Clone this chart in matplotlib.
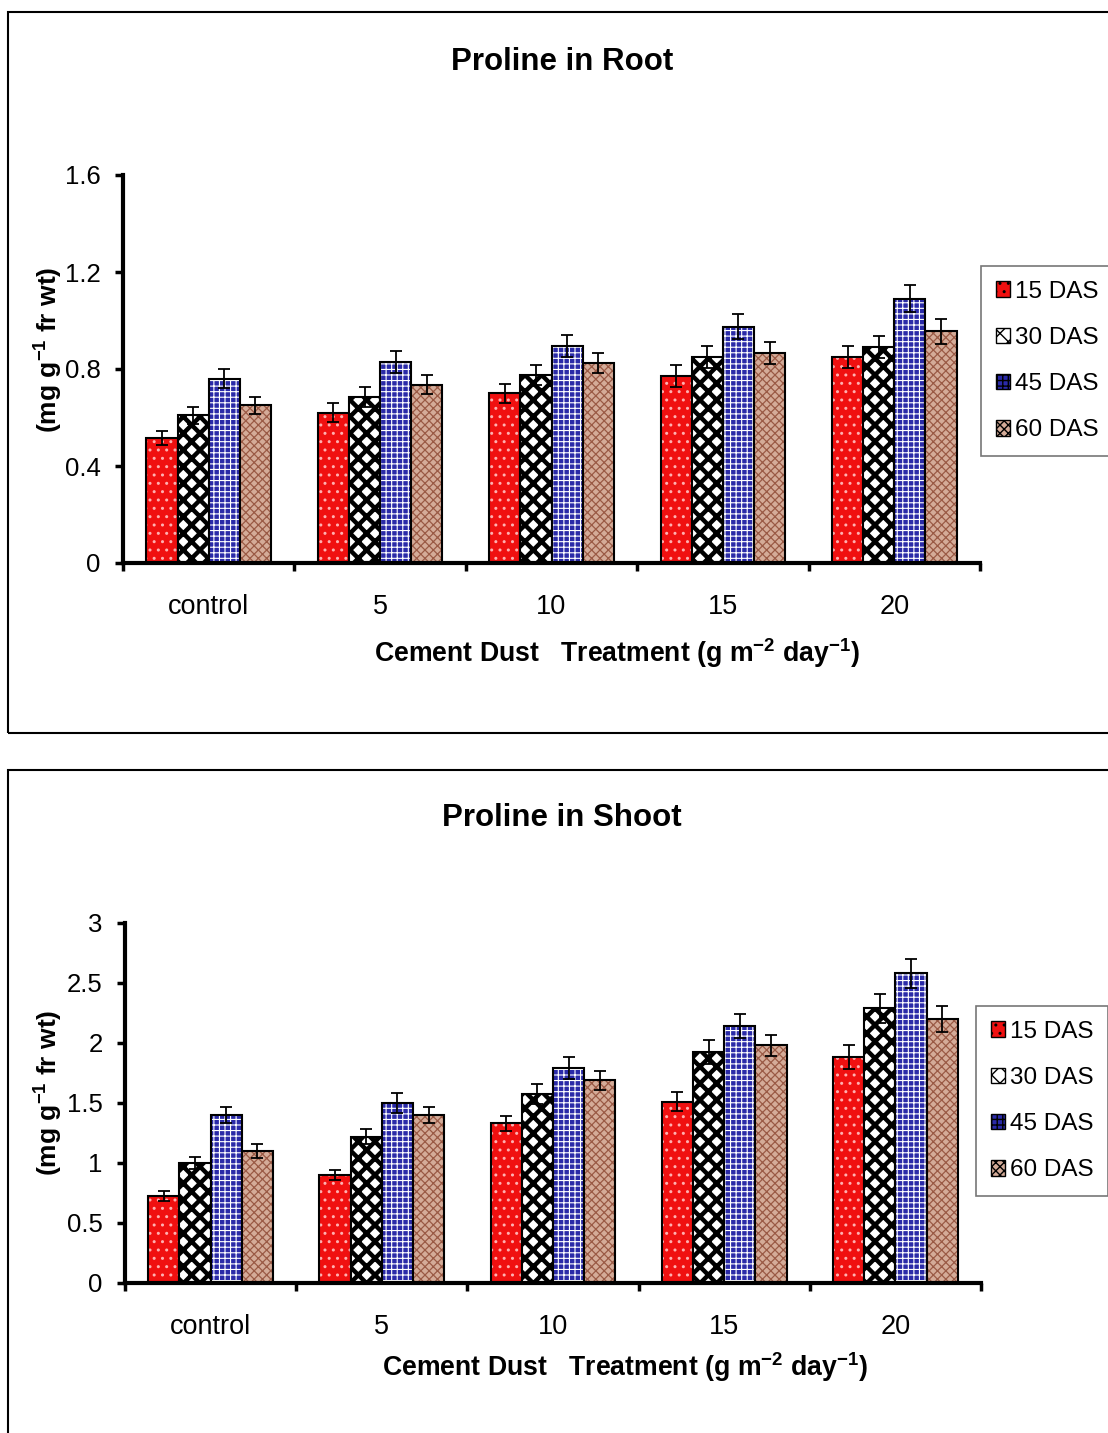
import matplotlib
matplotlib.use("Agg")
import matplotlib.pyplot as plt
from matplotlib.patches import Rectangle
import numpy as np

plt.rcParams['font.family'] = ['Liberation Sans', 'DejaVu Sans']
plt.rcParams['mathtext.fontset'] = 'custom'
plt.rcParams['mathtext.rm'] = 'Liberation Sans'
plt.rcParams['mathtext.bf'] = 'Liberation Sans:bold'
plt.rcParams['hatch.linewidth'] = 1.0

categories = ["control", "5", "10", "15", "20"]
series = ["15 DAS", "30 DAS", "45 DAS", "60 DAS"]

# Proline in root
root_15 = [0.515, 0.62, 0.70, 0.77, 0.85]
root_30 = [0.61, 0.685, 0.775, 0.85, 0.89]
root_45 = [0.76, 0.83, 0.895, 0.975, 1.09]
root_60 = [0.65, 0.735, 0.825, 0.865, 0.955]
root_err_15 = [0.03, 0.04, 0.04, 0.045, 0.045]
root_err_30 = [0.035, 0.04, 0.04, 0.045, 0.045]
root_err_45 = [0.04, 0.045, 0.045, 0.05, 0.055]
root_err_60 = [0.035, 0.04, 0.04, 0.045, 0.05]

# Proline in shoot
shoot_15 = [0.725, 0.90, 1.33, 1.51, 1.88]
shoot_30 = [1.00, 1.22, 1.575, 1.925, 2.29]
shoot_45 = [1.40, 1.50, 1.79, 2.14, 2.58]
shoot_60 = [1.10, 1.40, 1.69, 1.98, 2.20]
shoot_err_15 = [0.04, 0.04, 0.06, 0.08, 0.10]
shoot_err_30 = [0.05, 0.06, 0.08, 0.10, 0.12]
shoot_err_45 = [0.07, 0.08, 0.09, 0.10, 0.12]
shoot_err_60 = [0.06, 0.07, 0.08, 0.09, 0.11]

faces = ["#f01010", "white", "#2a2aa8", "#d4ab98"]
hatch_cols = ["#ffb0b0", "black", "white", "#9a5a45"]
hatches = ["..", "xx", "+++", "xxxx"]
hatch_lw = [1.0, 3.2, 0.8, 0.9]
legend_hatch_lw = [1.0, 4.0, 0.8, 0.9]

fig = plt.figure(figsize=(11.08, 14.33), dpi=100)

W, H = 1108, 1433
# panel frames
fig.patches.append(Rectangle((8 / W, 1 - 733 / H), 1.2, (733 - 12) / H,
                             transform=fig.transFigure, fill=False,
                             edgecolor="black", linewidth=1.5))
fig.patches.append(Rectangle((8 / W, -0.1), 1.2, 0.1 + (1433 - 770) / H,
                             transform=fig.transFigure, fill=False,
                             edgecolor="black", linewidth=1.5))


def set_hlw(patches, lw):
    for p in patches:
        if hasattr(p, "set_hatch_linewidth"):
            p.set_hatch_linewidth(lw)


def panel(rect, data, errs, ymax, ystep, title, title_y, ylab_y, xlab_x, xlab_y, leg_anchor):
    ax = fig.add_axes(rect)
    x = np.arange(len(categories))
    w = 0.182
    for i in range(4):
        pos = x + (i - 1.5) * w
        with plt.rc_context({'hatch.linewidth': hatch_lw[i]}):
            bars = ax.bar(pos, data[i], w, color=faces[i], edgecolor=hatch_cols[i],
                          hatch=hatches[i], linewidth=0, label=series[i])
        set_hlw(bars, hatch_lw[i])
        ax.bar(pos, data[i], w, fill=False, edgecolor="black", linewidth=1.5)
        ax.errorbar(pos, data[i], yerr=errs[i], fmt="none", ecolor="black",
                    elinewidth=1.3, capsize=4.5, capthick=1.3)
    ax.set_xlim(-0.5, 4.5)
    ax.set_ylim(0, ymax)
    yt = np.arange(0, ymax + 1e-9, ystep)
    ax.set_yticks(yt)
    ax.set_yticklabels([f"{v:g}" for v in yt])
    ax.set_xticks(np.arange(-0.5, 4.6, 1))
    ax.set_xticklabels([])
    ax.set_xticks(x, minor=True)
    ax.set_xticklabels(categories, minor=True)
    ax.tick_params(axis="x", which="minor", length=0, pad=22, labelsize=19.5)
    ax.tick_params(axis="x", which="major", length=6, width=2.5, direction="out")
    ax.tick_params(axis="y", length=6, width=2.5, direction="out", labelsize=18.5, pad=10)
    for s in ["top", "right"]:
        ax.spines[s].set_visible(False)
    for s in ["left", "bottom"]:
        ax.spines[s].set_linewidth(3)
    fig.text(0.507, title_y, title, ha="center", va="center", fontsize=22.5, fontweight="bold")
    fig.text(48 / W, ylab_y, r"(mg g$^{\mathbf{-1}}$ fr wt)", rotation=90, ha="center",
             va="center", fontsize=19, fontweight="bold")
    fig.text(xlab_x, xlab_y,
             r"Cement Dust   Treatment (g m$^{\mathbf{-2}}$ day$^{\mathbf{-1}}$)",
             ha="center", va="center", fontsize=19.2, fontweight="bold")
    handles = []
    for i in range(4):
        with plt.rc_context({'hatch.linewidth': legend_hatch_lw[i]}):
            hp = Rectangle((0, 0), 1, 1, facecolor=faces[i], edgecolor="black",
                           hatch=hatches[i], linewidth=1)
        set_hlw([hp], legend_hatch_lw[i])
        handles.append(hp)
    leg = fig.legend(handles, series, loc="upper left", bbox_to_anchor=leg_anchor,
                     bbox_transform=fig.transFigure, fontsize=17.5, frameon=True,
                     fancybox=False, edgecolor="#555555", handlelength=0.6,
                     handleheight=0.6, handletextpad=0.2, labelspacing=1.0,
                     borderpad=0.6, borderaxespad=0)
    leg.get_frame().set_linewidth(1.2)
    return ax


panel([123 / W, 1 - 563 / H, (980 - 123) / W, (563 - 175) / H],
      [root_15, root_30, root_45, root_60],
      [root_err_15, root_err_30, root_err_45, root_err_60],
      1.6, 0.4, "Proline in Root", 1 - 62 / H, 1 - 350 / H, 617 / W, 1 - 653 / H,
      (981 / W, 1 - 266 / H))

panel([125 / W, 1 - 1283 / H, (981 - 125) / W, (1283 - 923) / H],
      [shoot_15, shoot_30, shoot_45, shoot_60],
      [shoot_err_15, shoot_err_30, shoot_err_45, shoot_err_60],
      3.0, 0.5, "Proline in Shoot", 1 - 818 / H, 1 - 1093 / H, 625 / W, 1 - 1367 / H,
      (976 / W, 1 - 1006 / H))

fig.savefig("out.png", dpi=100)
